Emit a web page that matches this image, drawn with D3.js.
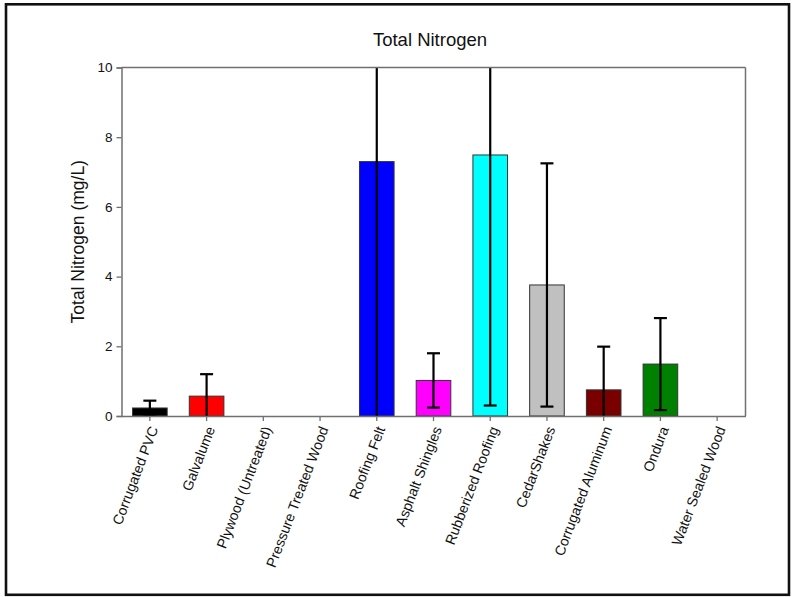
<!DOCTYPE html>
<html>
<head>
<meta charset="utf-8">
<script src="https://cdn.jsdelivr.net/npm/d3@7/dist/d3.min.js"></script>
<style>
  html, body { margin: 0; padding: 0; background: #fff; }
  svg { display: block; }
  text { font-family: "Liberation Sans", Arial, sans-serif; fill: #111; }
</style>
</head>
<body>
<svg id="chart" width="793" height="597"></svg>
<script>
// Roofing materials and their mean total nitrogen (mg/L) with standard deviations
const categories = [
  "Corrugated PVC", "Galvalume", "Plywood (Untreated)", "Pressure Treated Wood",
  "Roofing Felt", "Asphalt Shingles", "Rubberized Roofing", "CedarShakes",
  "Corrugated Aluminum", "Ondura", "Water Sealed Wood"
];
const means = [0.23, 0.57, null, null, 7.30, 1.02, 7.49, 3.76, 0.75, 1.49, null];
const stdDevs = [0.21, 0.63, null, null, 7.90, 0.78, 7.19, 3.49, 1.24, 1.32, null];
const barColors = [
  "#000000", "#ff0000", "#ffffff", "#ffffff",
  "#0000ff", "#ff00ff", "#00ffff", "#c0c0c0",
  "#7a0000", "#008000", "#ffffff"
];
const yTicks = [0, 2, 4, 6, 8, 10];

const svg = d3.select("#chart");
const margin = { left: 121.5, right: 793 - 745.5, top: 67.5, bottom: 597 - 416 };
const W = 793, H = 597;

// outer frame
svg.append("rect")
  .attr("x", 6).attr("y", 4.3).attr("width", 783).attr("height", 590.5)
  .attr("fill", "none").attr("stroke", "#111").attr("stroke-width", 2.6);

const x = d3.scaleBand()
  .domain(categories)
  .range([margin.left, W - margin.right])
  .padding(0);

const y = d3.scaleLinear()
  .domain([0, 10])
  .range([H - margin.bottom, margin.top]);

const barW = x.bandwidth() * 0.61;
const capW = 13;

const rows = categories.map((c, i) => ({ c, m: means[i], s: stdDevs[i], col: barColors[i] }))
  .filter(d => d.m !== null);

// bars
svg.append("g").selectAll("rect")
  .data(rows)
  .join("rect")
  .attr("x", d => x(d.c) + x.bandwidth() / 2 - barW / 2)
  .attr("y", d => y(d.m))
  .attr("width", barW)
  .attr("height", d => y(0) - y(d.m))
  .attr("fill", d => d.col)
  .attr("stroke", "#333")
  .attr("stroke-width", 1);

// error bars, clipped to the axis range; caps only where the end is inside
const eb = svg.append("g").attr("stroke", "#000").attr("stroke-width", 2.2);
rows.forEach(d => {
  const cx = x(d.c) + x.bandwidth() / 2;
  const hiRaw = d.m + d.s, loRaw = d.m - d.s;
  const hi = Math.min(hiRaw, 10), lo = Math.max(loRaw, 0);
  eb.append("line").attr("x1", cx).attr("x2", cx).attr("y1", y(hi)).attr("y2", y(lo));
  if (hiRaw <= 10) {
    eb.append("line").attr("x1", cx - capW / 2).attr("x2", cx + capW / 2)
      .attr("y1", y(hi)).attr("y2", y(hi));
  }
  if (loRaw >= 0) {
    eb.append("line").attr("x1", cx - capW / 2).attr("x2", cx + capW / 2)
      .attr("y1", y(lo)).attr("y2", y(lo));
  }
});

const axisColor = "#707070";

// frame lines (top and right)
svg.append("line")
  .attr("x1", margin.left).attr("x2", W - margin.right)
  .attr("y1", margin.top).attr("y2", margin.top)
  .attr("stroke", axisColor).attr("stroke-width", 1.5);
svg.append("line")
  .attr("x1", W - margin.right).attr("x2", W - margin.right)
  .attr("y1", margin.top).attr("y2", H - margin.bottom)
  .attr("stroke", axisColor).attr("stroke-width", 1.5);

// y axis
const yAxis = svg.append("g")
  .attr("transform", `translate(${margin.left},0)`)
  .call(d3.axisLeft(y).tickValues(yTicks).tickSize(5).tickPadding(4).tickFormat(d3.format("d")));
yAxis.select(".domain").attr("stroke", axisColor).attr("stroke-width", 1.5);
yAxis.selectAll(".tick line").attr("stroke", axisColor).attr("stroke-width", 1.3);
yAxis.selectAll(".tick text")
  .style("font-family", "'Liberation Sans', Arial, sans-serif")
  .style("font-size", "13.5px").attr("fill", "#111");

// x axis
const xAxis = svg.append("g")
  .attr("transform", `translate(0,${H - margin.bottom})`)
  .call(d3.axisBottom(x).tickSize(5).tickSizeOuter(0));
xAxis.select(".domain").attr("stroke", axisColor).attr("stroke-width", 1.5);
xAxis.selectAll(".tick line").attr("stroke", axisColor).attr("stroke-width", 1.3);
xAxis.selectAll(".tick text")
  .style("font-family", "'Liberation Sans', Arial, sans-serif")
  .style("font-size", "14.2px").attr("fill", "#111")
  .attr("text-anchor", "end")
  .attr("dy", "0.35em")
  .attr("transform", "translate(4,11) rotate(-69)")
  .attr("y", 0).attr("x", 0);

// title
svg.append("text")
  .attr("x", 430).attr("y", 46)
  .attr("text-anchor", "middle")
  .style("font-size", "18.5px")
  .text("Total Nitrogen");

// y axis label
svg.append("text")
  .attr("transform", `translate(84,${(margin.top + H - margin.bottom) / 2}) rotate(-90)`)
  .attr("text-anchor", "middle")
  .style("font-size", "17.5px")
  .text("Total Nitrogen (mg/L)");
</script>
</body>
</html>
